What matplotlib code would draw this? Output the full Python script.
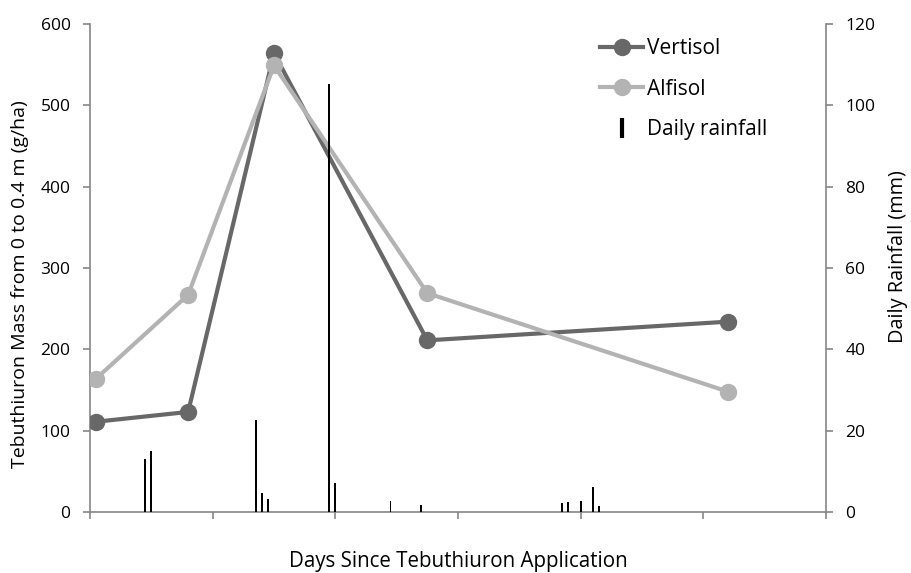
import matplotlib
matplotlib.use("Agg")
import matplotlib.pyplot as plt
from matplotlib.lines import Line2D

plt.rcParams['font.family'] = ['Open Sans', 'DejaVu Sans']

# Sampling days and tebuthiuron mass (g/ha) in the 0-0.4 m profile
sample_days = [1, 16, 30, 55, 104]
vertisol = [111, 123, 564, 211, 234]
alfisol = [164, 267, 549, 269, 148]

# Daily rainfall events (mm)
rain_days = [9, 10, 27, 28, 29, 39, 40, 49, 54, 77, 78, 80, 82, 83]
rain_mm = [13.1, 15.1, 22.6, 4.6, 3.1, 105.2, 7.1, 2.6, 1.6, 2.1, 2.5, 2.7, 6.1, 1.5]

x_ticks = [0, 20, 40, 60, 80, 100, 120]
left_ticks = [0, 100, 200, 300, 400, 500, 600]
right_ticks = [0, 20, 40, 60, 80, 100, 120]

c_vert = '#686868'
c_alf = '#b3b3b3'
c_axis = '#868686'

fig = plt.figure(figsize=(9.11, 5.73), dpi=100)
ax = fig.add_axes([0.0988, 0.1065, 0.8079, 0.8516])
ax2 = ax.twinx()

ax.plot(sample_days, vertisol, color=c_vert, lw=3, marker='o', ms=11.5,
        solid_joinstyle='round', zorder=3)
ax.plot(sample_days, alfisol, color=c_alf, lw=3, marker='o', ms=11.5,
        solid_joinstyle='round', zorder=3)

ax2.bar(rain_days, rain_mm, width=0.3, color='black', zorder=2)

ax.set_xlim(0, 120)
ax.set_ylim(0, 600)
ax2.set_ylim(0, 120)
ax.set_xticks(x_ticks)
ax.set_xticklabels([])
ax.set_yticks(left_ticks)
ax2.set_yticks(right_ticks)

for a in (ax, ax2):
    a.spines['top'].set_visible(False)
    for s in ('left', 'right', 'bottom'):
        a.spines[s].set_color(c_axis)
        a.spines[s].set_linewidth(1.2)
    a.tick_params(colors=c_axis, labelcolor='black', length=5, width=1.2,
                  direction='out', labelsize=12.5, pad=9)
ax.spines['right'].set_visible(False)
ax2.spines['left'].set_visible(False)
ax2.spines['bottom'].set_visible(False)

ax.set_xlabel('Days Since Tebuthiuron Application', fontsize=14.8, va='center')
ax.xaxis.set_label_coords(0.5, -0.1025)
ax.set_ylabel('Tebuthiuron Mass from 0 to 0.4 m (g/ha)', fontsize=14, va='center')
ax.yaxis.set_label_coords(-0.0951, 0.466)
ax2.set_ylabel('Daily Rainfall (mm)', fontsize=14.3, va='center')
ax2.yaxis.set_label_coords(1.0978, 0.5225)

handles = [
    Line2D([], [], color=c_vert, lw=3, marker='o', ms=11.5),
    Line2D([], [], color=c_alf, lw=3, marker='o', ms=11.5),
    Line2D([], [], color='black', lw=0, marker='|', ms=14, mew=3),
]
ax2.legend(handles, ['Vertisol', 'Alfisol', 'Daily rainfall'], loc='upper left',
           bbox_to_anchor=(0.667, 1.01), frameon=False, fontsize=15,
           handlelength=2.1, handletextpad=0.15, labelspacing=0.95)

fig.savefig('out.png', dpi=100)
